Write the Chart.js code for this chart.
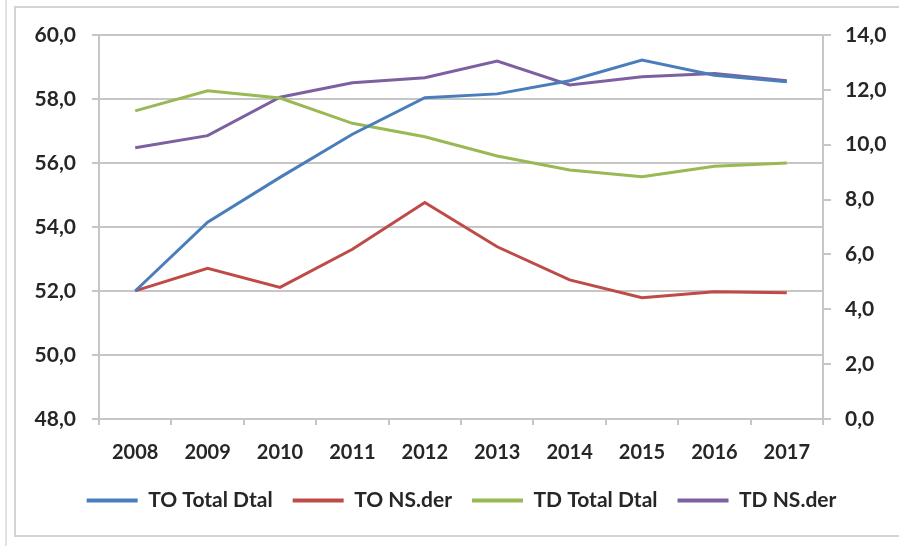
<!DOCTYPE html>
<html>
<head>
<meta charset="utf-8">
<script src="https://cdn.jsdelivr.net/npm/chart.js@4.4.1/dist/chart.umd.min.js"></script>
<style>
  html, body { margin: 0; padding: 0; background: #fff; }
  body { width: 899px; height: 546px; position: relative; overflow: hidden; }
  .edge { position: absolute; left: 5px; top: 0; width: 2px; height: 546px; background: #e2e2e2; }
  .frame { position: absolute; left: 14px; top: 6px; width: 900px; height: 531px; border: 2px solid #d4d4d4; box-sizing: border-box; }
  .wrap { position: absolute; left: 0; top: 0; width: 899px; height: 546px; }
</style>
</head>
<body>
<div class="edge"></div>
<div class="frame"></div>
<div class="wrap"><canvas id="chart" width="899" height="546"></canvas></div>
<script>
// ---- data ----
const years = ['2008', '2009', '2010', '2011', '2012', '2013', '2014', '2015', '2016', '2017'];

// left axis (48 - 60)
const toTotalDtal = [52.0, 54.15, 55.55, 56.9, 58.04, 58.16, 58.57, 59.22, 58.74, 58.54];
const tdTotalDtal = [57.63, 58.26, 58.03, 57.24, 56.82, 56.22, 55.78, 55.57, 55.9, 56.0];

// right axis (0 - 14)
const toNSder = [4.67, 5.49, 4.8, 6.19, 7.89, 6.28, 5.07, 4.42, 4.64, 4.6];
const tdNSder = [9.89, 10.33, 11.73, 12.26, 12.44, 13.05, 12.18, 12.48, 12.6, 12.33];

const seriesNames = ['TO Total Dtal', 'TO NS.der', 'TD Total Dtal', 'TD NS.der'];
const seriesColors = ['#4a7ebb', '#be4b48', '#98b954', '#7d60a0'];

const leftMin = 48, leftMax = 60;
const rightMin = 0, rightMax = 14;

const FONT = 'Lato, "Open Sans", sans-serif';
const TEXT = '#262626';
const GRID = '#c6c6c6';

const fmt = v => Number(v).toFixed(1).replace('.', ',');

const mkSet = (i, data, axis) => ({
  label: seriesNames[i],
  data: data,
  yAxisID: axis,
  borderColor: seriesColors[i],
  backgroundColor: seriesColors[i],
  borderWidth: 3,
  pointRadius: 0,
  tension: 0
});

new Chart(document.getElementById('chart'), {
  type: 'line',
  data: {
    labels: years,
    datasets: [
      mkSet(0, toTotalDtal, 'y'),
      mkSet(1, toNSder, 'y1'),
      mkSet(2, tdTotalDtal, 'y'),
      mkSet(3, tdNSder, 'y1')
    ]
  },
  options: {
    responsive: false,
    animation: false,
    devicePixelRatio: 1,
    layout: { padding: { top: 35, left: 24, right: 0, bottom: 25 } },
    scales: {
      x: {
        offset: true,
        grid: { offset: true, drawOnChartArea: false, drawTicks: true, tickLength: 6, color: GRID, lineWidth: 2 },
        border: { display: true, color: GRID, width: 2 },
        ticks: { color: TEXT, font: { family: FONT, size: 20, weight: 'bold' }, padding: 16, maxRotation: 0, autoSkip: false },
        afterFit: s => { s.height = 51; }
      },
      y: {
        position: 'left',
        min: leftMin, max: leftMax,
        grid: { color: GRID, lineWidth: 2, tickLength: 7 },
        border: { display: true, color: GRID, width: 2 },
        ticks: { stepSize: 2, color: TEXT, font: { family: FONT, size: 21, weight: 'bold' }, padding: 16, callback: fmt },
        afterFit: s => { s.width = 75; }
      },
      y1: {
        position: 'right',
        min: rightMin, max: rightMax,
        grid: { drawOnChartArea: false, color: GRID, lineWidth: 2, tickLength: 8 },
        border: { display: true, color: GRID, width: 2 },
        ticks: { stepSize: 2, color: TEXT, font: { family: FONT, size: 21, weight: 'bold' }, padding: 14, callback: fmt },
        afterFit: s => { s.width = 76; }
      }
    },
    plugins: {
      tooltip: { enabled: false },
      legend: {
        position: 'bottom',
        labels: {
          color: TEXT,
          font: { family: FONT, size: 21, weight: 'bold' },
          boxWidth: 51,
          boxHeight: 4,
          padding: 20,
          generateLabels: chart => Chart.defaults.plugins.legend.labels.generateLabels(chart)
            .map(l => Object.assign(l, { lineWidth: 0 }))
        }
      }
    }
  }
});
</script>
</body>
</html>
